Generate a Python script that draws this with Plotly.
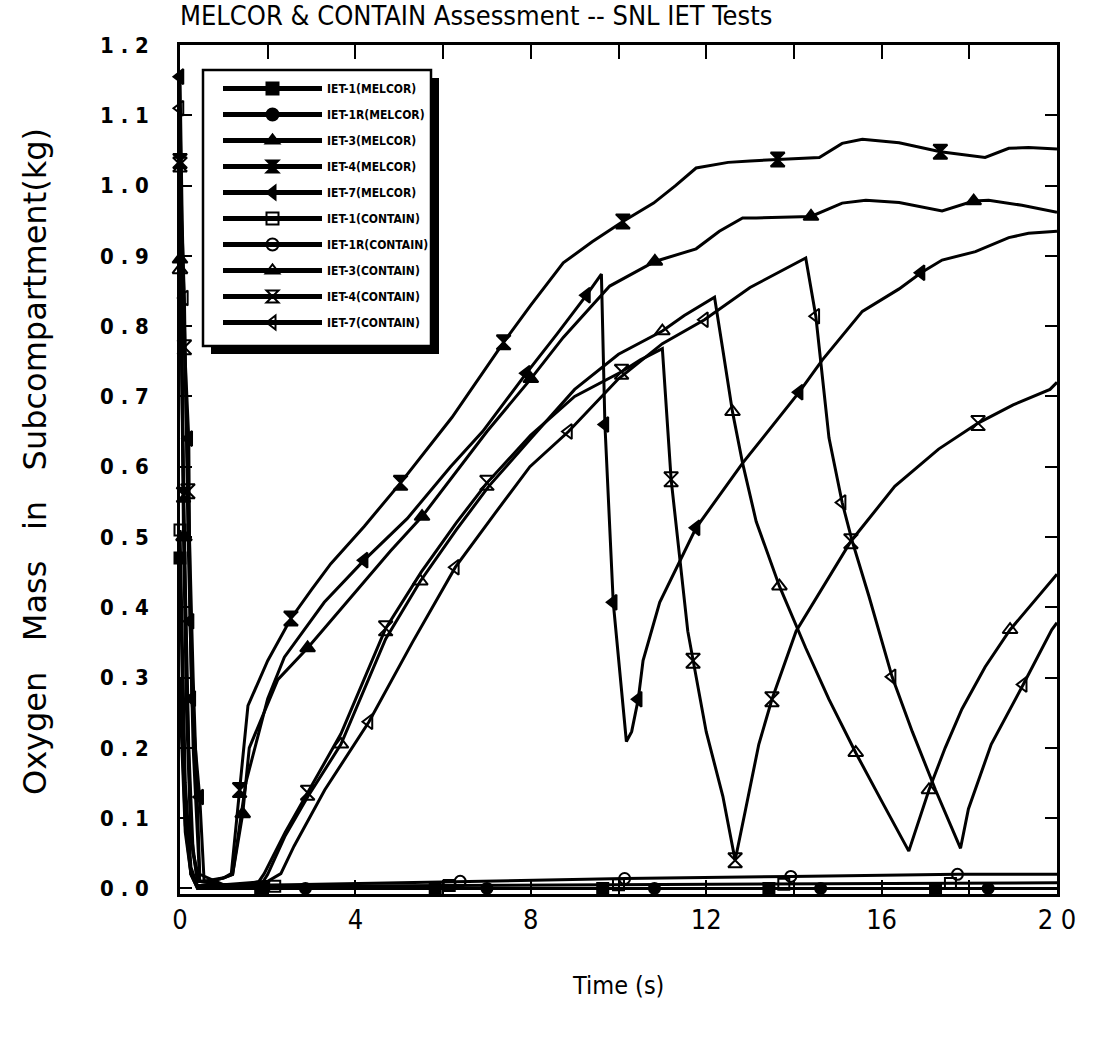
import plotly.graph_objects as go

# ---------------- data (time in s, oxygen mass in kg) ----------------
m1_t = [0, 0.05, 0.12, 0.25, 0.4, 1.84, 5.82, 9.64, 13.43, 17.23, 20.0]
m1_v = [0.47, 0.30, 0.12, 0.02, 0.0, 0.0, 0.0, 0.0, 0.0, 0.0, 0.0]
m1_mk = [0, 1.84, 5.82, 9.64, 13.43, 17.23]

m1r_t = [0, 0.05, 0.12, 0.25, 0.4, 2.86, 7.0, 10.82, 14.61, 18.43, 20.0]
m1r_v = [0.30, 0.20, 0.09, 0.02, 0.0, 0.0, 0.0, 0.0, 0.0, 0.0, 0.0]
m1r_mk = [2.86, 7.0, 10.82, 14.61, 18.43]

m3_t = [0, 0.03, 0.08, 0.15, 0.25, 0.4, 0.7, 1.0, 1.2, 1.43, 1.58, 1.96, 2.23, 2.91, 3.5,
        4.12, 4.8, 5.52, 6.39, 7.0, 8.0, 8.74, 9.8, 10.83, 11.77, 12.3, 12.83, 13.14, 14.39,
        15.1, 15.64, 16.4, 17.38, 18.1, 18.44, 19.2, 20.0]
m3_v = [0.895, 0.80, 0.50, 0.25, 0.07, 0.01, 0.01, 0.015, 0.02, 0.106, 0.20, 0.257, 0.297,
        0.342, 0.385, 0.43, 0.48, 0.529, 0.60, 0.65, 0.725, 0.784, 0.857, 0.892, 0.91, 0.935,
        0.954, 0.954, 0.956, 0.975, 0.979, 0.976, 0.964, 0.978, 0.979, 0.972, 0.962]
m3_mk = [0, 0.08, 1.43, 2.91, 5.52, 8.0, 10.83, 14.39, 18.1]

m4_t = [0, 0.03, 0.08, 0.15, 0.25, 0.4, 0.7, 1.0, 1.17, 1.36, 1.55, 2.0, 2.53, 3.0, 3.44,
        4.2, 5.03, 6.2, 7.38, 8.0, 8.74, 9.4, 10.1, 10.8, 11.3, 11.77, 12.5, 13.0, 13.63,
        14.58, 15.1, 15.56, 16.4, 17.34, 18.36, 18.9, 19.35, 20.0]
m4_v = [1.035, 0.90, 0.56, 0.30, 0.08, 0.01, 0.01, 0.015, 0.021, 0.14, 0.26, 0.324, 0.384,
        0.425, 0.462, 0.515, 0.577, 0.67, 0.777, 0.83, 0.89, 0.92, 0.949, 0.975, 1.0, 1.025,
        1.033, 1.035, 1.037, 1.04, 1.06, 1.066, 1.061, 1.048, 1.04, 1.053, 1.054, 1.052]
m4_mk = [0, 0.08, 1.36, 2.53, 5.03, 7.38, 10.1, 13.63, 17.34]

m7_t = [0, 0.05, 0.12, 0.2, 0.23, 0.27, 0.35, 0.45, 0.55, 1.0, 1.2, 1.5, 2.0, 2.38, 3.29,
        4.2, 5.18, 6.17, 6.9, 7.9, 8.6, 9.27, 9.61, 9.69, 9.88, 10.18, 10.3, 10.45, 10.56,
        10.94, 11.77, 12.83, 14.12, 14.65, 15.56, 16.4, 16.9, 17.38, 18.14, 18.9, 19.35, 20.0]
m7_v = [1.155, 0.95, 0.75, 0.64, 0.38, 0.27, 0.20, 0.13, 0.01, 0.015, 0.02, 0.15, 0.27,
        0.329, 0.407, 0.467, 0.526, 0.60, 0.65, 0.733, 0.789, 0.844, 0.874, 0.66, 0.407,
        0.209, 0.223, 0.269, 0.324, 0.407, 0.513, 0.605, 0.706, 0.752, 0.821, 0.853, 0.876,
        0.894, 0.906, 0.926, 0.932, 0.935]
m7_mk = [0, 0.2, 0.23, 0.27, 0.45, 4.2, 7.9, 9.27, 9.69, 9.88, 10.45, 11.77, 14.12, 16.9]

c1_t = [0, 0.05, 0.12, 0.25, 0.4, 2.16, 6.14, 10.0, 13.77, 17.57, 20.0]
c1_v = [0.51, 0.35, 0.15, 0.03, 0.003, 0.003, 0.004, 0.005, 0.006, 0.007, 0.008]
c1_mk = [0, 2.16, 6.14, 10.0, 13.77, 17.57]

c1r_t = [0, 0.05, 0.12, 0.25, 0.4, 2.5, 6.39, 10.14, 13.93, 17.73, 20.0]
c1r_v = [0.27, 0.18, 0.08, 0.02, 0.004, 0.005, 0.01, 0.014, 0.017, 0.02, 0.02]
c1r_mk = [6.39, 10.14, 13.93, 17.73]

c3_t = [0, 0.04, 0.1, 0.2, 0.3, 0.45, 1.0, 1.5, 1.9, 2.0, 2.4, 2.91, 3.67, 4.69, 5.48,
        6.3, 7.04, 8.0, 9.0, 10.0, 11.0, 11.5, 12.19, 12.38, 12.6, 12.83, 13.14, 13.67,
        14.27, 14.8, 15.41, 16.02, 16.62, 17.08, 17.45, 17.83, 18.36, 18.93, 19.88, 20.0]
c3_v = [0.88, 0.70, 0.50, 0.20, 0.05, 0.01, 0.005, 0.005, 0.01, 0.02, 0.075, 0.13, 0.205,
        0.355, 0.437, 0.51, 0.572, 0.64, 0.71, 0.76, 0.793, 0.815, 0.841, 0.766, 0.678,
        0.605, 0.522, 0.43, 0.342, 0.269, 0.193, 0.122, 0.053, 0.14, 0.20, 0.255, 0.315,
        0.368, 0.439, 0.447]
c3_mk = [0, 0.1, 3.67, 5.48, 11.0, 12.6, 13.67, 15.41, 17.08, 18.93]

c4_t = [0, 0.04, 0.1, 0.18, 0.3, 0.45, 1.0, 1.5, 1.8, 1.92, 2.4, 2.91, 3.67, 4.69, 5.5,
        6.3, 7.0, 8.0, 9.0, 10.07, 10.5, 11.0, 11.2, 11.58, 11.7, 12.0, 12.38, 12.66, 12.9,
        13.2, 13.5, 14.05, 15.3, 16.3, 17.3, 18.2, 19.0, 19.84, 20.0]
c4_v = [1.03, 0.85, 0.77, 0.565, 0.30, 0.02, 0.005, 0.005, 0.01, 0.021, 0.08, 0.136, 0.22,
        0.37, 0.45, 0.52, 0.577, 0.645, 0.70, 0.735, 0.752, 0.768, 0.582, 0.366, 0.324,
        0.223, 0.131, 0.04, 0.113, 0.205, 0.269, 0.366, 0.494, 0.572, 0.625, 0.662, 0.688,
        0.71, 0.72]
c4_mk = [0, 0.1, 0.18, 2.91, 4.69, 7.0, 10.07, 11.2, 11.7, 12.66, 13.5, 15.3, 18.2]

c7_t = [0, 0.04, 0.1, 0.18, 0.3, 0.45, 1.0, 2.0, 2.3, 2.6, 3.3, 4.31, 5.3, 6.28, 7.2,
        7.98, 8.86, 10.0, 11.0, 11.96, 13.0, 14.27, 14.5, 14.8, 15.1, 15.33, 15.71, 16.24,
        16.7, 17.23, 17.8, 17.98, 18.5, 19.23, 19.88, 20.0]
c7_v = [1.11, 0.95, 0.84, 0.51, 0.20, 0.01, 0.005, 0.01, 0.021, 0.06, 0.14, 0.237, 0.35,
        0.457, 0.535, 0.60, 0.65, 0.725, 0.775, 0.809, 0.855, 0.897, 0.814, 0.641, 0.549,
        0.494, 0.416, 0.301, 0.223, 0.14, 0.057, 0.113, 0.205, 0.29, 0.368, 0.378]
c7_mk = [0, 0.1, 4.31, 6.28, 8.86, 11.96, 14.5, 15.1, 16.24, 19.23]

labels = ["IET-1(MELCOR)", "IET-1R(MELCOR)", "IET-3(MELCOR)", "IET-4(MELCOR)", "IET-7(MELCOR)",
          "IET-1(CONTAIN)", "IET-1R(CONTAIN)", "IET-3(CONTAIN)", "IET-4(CONTAIN)", "IET-7(CONTAIN)"]
symbols = ["square", "circle", "triangle-up", "hourglass", "triangle-left",
           "square-open", "circle-open", "triangle-up-open", "hourglass-open", "triangle-left-open"]
marker_px = [11, 11, 13, 14, 13, 11, 11, 13, 14, 13]
data = [(m1_t, m1_v, m1_mk), (m1r_t, m1r_v, m1r_mk), (m3_t, m3_v, m3_mk), (m4_t, m4_v, m4_mk),
        (m7_t, m7_v, m7_mk), (c1_t, c1_v, c1_mk), (c1r_t, c1r_v, c1r_mk), (c3_t, c3_v, c3_mk),
        (c4_t, c4_v, c4_mk), (c7_t, c7_v, c7_mk)]

x_ticks = [0, 2, 4, 6, 8, 10, 12, 14, 16, 18, 20]
x_ticktext = ["0", "", "4", "", "8", "", "12", "", "16", "", "2 0"]
y_ticks = [0.0, 0.1, 0.2, 0.3, 0.4, 0.5, 0.6, 0.7, 0.8, 0.9, 1.0, 1.1, 1.2]
y_ticktext = [f"{v:.1f}".replace(".", " . ") for v in y_ticks]

COND = "DejaVu Sans Condensed, sans-serif"

# plot area in pixels
L, R, T, B = 180, 1057, 45, 894
W, H = R - L, B - T


def px(x):
    return (x - L) / W


def py(y):
    return (B - y) / H


fig = go.Figure()
for lab, sym, ms, (ts, vs, mk) in zip(labels, symbols, marker_px, data):
    sizes = [ms if t in mk else 0 for t in ts]
    fig.add_trace(go.Scatter(
        x=ts, y=vs, mode="lines+markers", name=lab, legendgroup=lab,
        line=dict(color="black", width=3),
        marker=dict(symbol=sym, size=sizes, color="black", opacity=1,
                    line=dict(color="black", width=2)),
        cliponaxis=False,
    ))

# legend frame with drop shadow
fig.add_shape(type="rect", xref="paper", yref="paper",
              x0=px(211), x1=px(439), y0=py(354), y1=py(78),
              fillcolor="black", line=dict(width=0), layer="above")
fig.add_shape(type="rect", xref="paper", yref="paper",
              x0=px(203), x1=px(431), y0=py(346), y1=py(70),
              fillcolor="white", line=dict(color="black", width=2.5), layer="above")

fig.update_layout(
    width=1104, height=1043,
    margin=dict(l=L, r=1104 - R, t=T, b=1043 - B),
    paper_bgcolor="white", plot_bgcolor="white",
    showlegend=True,
    legend=dict(x=px(218), y=py(74), xanchor="left", yanchor="top",
                bgcolor="rgba(0,0,0,0)", borderwidth=0,
                font=dict(family=COND, size=12, color="black", weight="bold"),
                itemwidth=99, tracegroupgap=7, itemsizing="constant",
                itemclick=False),
    title=dict(text="MELCOR & CONTAIN Assessment -- SNL IET Tests",
               x=L / 1104, xanchor="left", y=1 - 16 / 1043, yanchor="middle",
               font=dict(family=COND, size=27, color="black")),
    xaxis=dict(range=[0, 20], tickmode="array", tickvals=x_ticks, ticktext=x_ticktext,
               ticks="inside", ticklen=14, tickwidth=2, tickcolor="black",
               showline=True, linewidth=2.5, linecolor="black", mirror="ticks",
               showgrid=False, zeroline=False, ticklabelstandoff=0,
               tickfont=dict(family=COND, size=27, color="black")),
    yaxis=dict(range=[-0.008, 1.2], tickmode="array", tickvals=y_ticks, ticktext=y_ticktext,
               ticks="inside", ticklen=12, tickwidth=2, tickcolor="black",
               showline=True, linewidth=2.5, linecolor="black", mirror="ticks",
               showgrid=False, zeroline=False, ticklabelstandoff=24,
               tickfont=dict(family=COND, size=22, color="black", weight="bold")),
    annotations=[
        dict(text="Time\u00a0(s)", xref="paper", yref="paper",
             x=px(618), y=py(985), xanchor="center", yanchor="middle", showarrow=False,
             font=dict(family=COND, size=25, color="black")),
        dict(text="Oxygen\u00a0\u00a0\u00a0Mass\u00a0\u00a0\u00a0in\u00a0\u00a0\u00a0Subcompartment(kg)",
             xref="paper", yref="paper", x=px(35), y=py(462),
             xanchor="center", yanchor="middle", textangle=-90, showarrow=False,
             font=dict(family="DejaVu Sans, sans-serif", size=32, color="black")),
    ],
)

fig.write_html("out.html")
